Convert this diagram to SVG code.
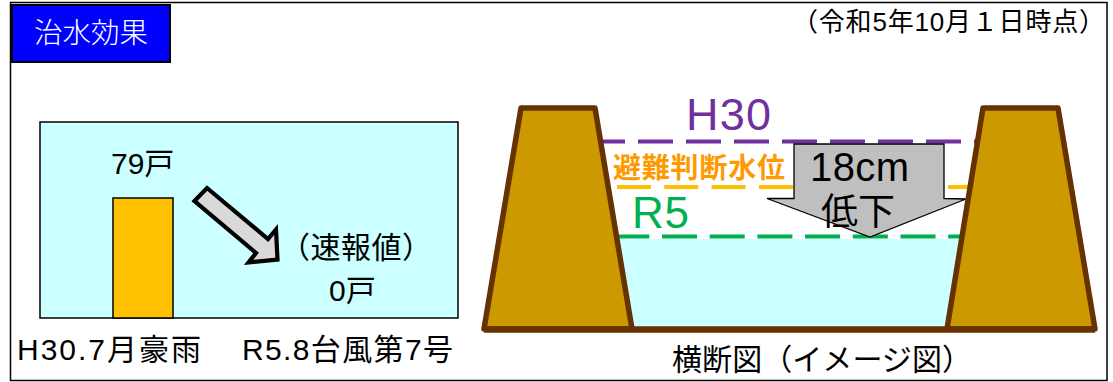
<svg xmlns="http://www.w3.org/2000/svg" width="1113" height="382" viewBox="0 0 1113 382">
<style>
text{font-family:"Liberation Sans","Noto Sans CJK JP",sans-serif;fill:#000}
.lbl{font-size:30px}
.levee{fill:#CC9900;stroke:#663300;stroke-width:5.5;stroke-linejoin:round}
.dash{fill:none;stroke-width:4}
</style>
<rect id="frame" x="10.5" y="2.5" width="1096.5" height="378" fill="#fff" stroke="#000" stroke-width="1.5"/>
<g id="title">
<rect x="12" y="5" width="158" height="57" fill="#0000FF" stroke="#000" stroke-width="2"/>
<text x="34" y="43" style="font-size:28.5px;fill:#fff;font-weight:300" textLength="114">治水効果</text>
</g>
<g id="date">
<text x="792" y="31" style="font-size:26px" textLength="313" lengthAdjust="spacing">（令和5年10月１日時点）</text>
</g>
<g id="chart">
<rect x="40" y="122" width="418" height="196" fill="#CCFFFF" stroke="#000" stroke-width="1.5"/>
<rect x="113" y="198" width="60" height="120" fill="#FFC000" stroke="#000" stroke-width="1.5"/>
<text class="lbl" x="111" y="174">79戸</text>
<text class="lbl" x="280" y="258" textLength="152" lengthAdjust="spacing">（速報値）</text>
<text class="lbl" x="329" y="301">0戸</text>
</g>
<g id="labels-bottom">
<text class="lbl" x="17" y="360" textLength="184" lengthAdjust="spacing">H30.7月豪雨</text>
<text class="lbl" x="242" y="360" textLength="211" lengthAdjust="spacing">R5.8台風第7号</text>
</g>
<g id="connectors">
<polygon points="194.5,201 207,188 268,239 276,229.5 277.5,259.5 248.5,262.5 256,253" fill="#D9D9D9" stroke="#000" stroke-width="4.2" stroke-linejoin="miter"/>
</g>
<g id="cross-section">
<rect x="600" y="239" width="380" height="90" fill="#CCFFFF"/>
<line class="dash" x1="590" y1="141.5" x2="980" y2="141.5" stroke="#7030A0" stroke-dasharray="35 13"/>
<line class="dash" x1="617" y1="187" x2="972" y2="187" stroke="#FFC000" stroke-dasharray="34 13.3"/>
<line class="dash" x1="614.3" y1="236.5" x2="972" y2="236.5" stroke="#00B050" stroke-dasharray="35 12.7"/>
<g id="drop-arrow">
<polygon points="794,144 944,144 944,198.5 966,199 870,237 767,198.5 794,198.5" fill="#BFBFBF" stroke="#000" stroke-width="1.3"/>
<text x="810" y="181" style="font-size:40px" textLength="99" lengthAdjust="spacing">18cm</text>
<text x="821" y="225" style="font-size:37px">低下</text>
</g>
<polygon class="levee" points="521,108 595,108 632,329 484,329"/>
<polygon class="levee" points="983,108 1058,108 1095,329 947,329"/>
<line x1="484" y1="329.5" x2="1095" y2="329.5" stroke="#663300" stroke-width="6.5"/>
<text x="686" y="130" style="font-size:45px;fill:#7030A0" textLength="85" lengthAdjust="spacing">H30</text>
<text x="613" y="178" style="font-size:28px;fill:#FF9900;font-weight:bold" textLength="172" lengthAdjust="spacing">避難判断水位</text>
<text x="632" y="228" style="font-size:44px;fill:#00B050" textLength="57" lengthAdjust="spacing">R5</text>
</g>
<g id="caption">
<text x="672" y="370" style="font-size:30px" textLength="300" lengthAdjust="spacing">横断図（イメージ図）</text>
</g>
</svg>
